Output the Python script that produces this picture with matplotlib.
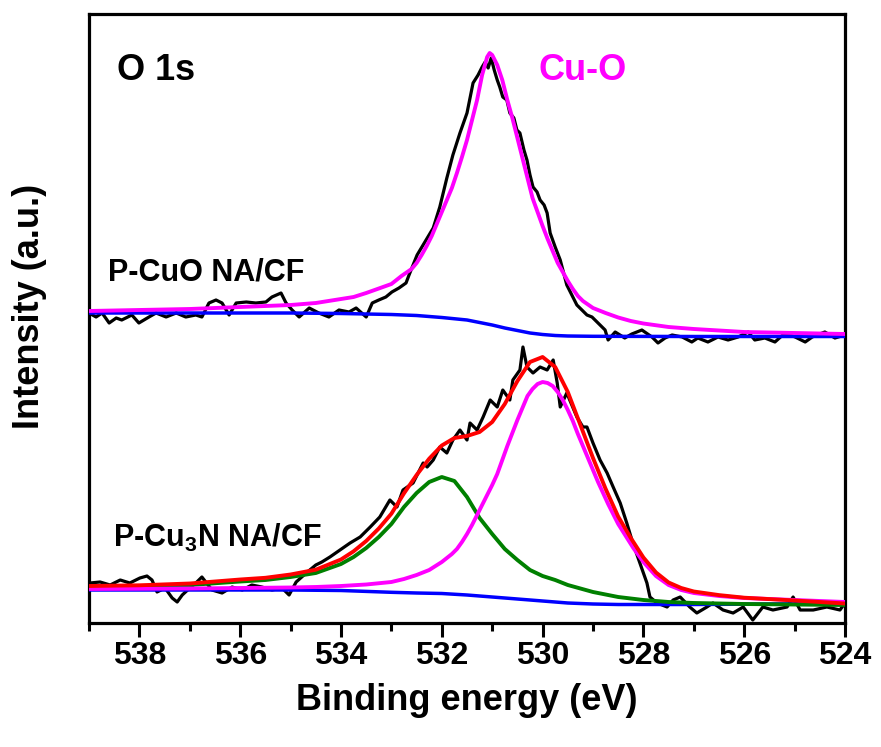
import matplotlib
matplotlib.use('Agg')
from matplotlib import pyplot as plt
from matplotlib.ticker import MultipleLocator

# ---------------- data (binding energy in eV, intensity in a.u.) ----------------
# P-CuO NA/CF : measured spectrum
cuo_exp_ev = [539.00, 538.86, 538.74, 538.60, 538.46, 538.35, 538.15, 538.01, 537.81, 537.67,
              537.47, 537.27, 537.08, 536.88, 536.76, 536.62, 536.48, 536.36, 536.22, 536.08,
              535.88, 535.69, 535.49, 535.37, 535.19, 535.09, 534.97, 534.83, 534.63, 534.44,
              534.24, 534.04, 533.84, 533.70, 533.50, 533.38, 533.25, 533.11, 532.99, 532.85,
              532.71, 532.65, 532.49, 532.17, 532.04, 531.90, 531.78, 531.64, 531.50, 531.38,
              531.28, 531.20, 531.14, 531.08, 531.02, 530.96, 530.90, 530.85, 530.79, 530.71,
              530.65, 530.57, 530.51, 530.45, 530.37, 530.31, 530.25, 530.19, 530.11, 530.05,
              529.97, 529.91, 529.85, 529.75, 529.65, 529.52, 529.42, 529.32, 529.22, 529.12,
              529.02, 528.90, 528.76, 528.70, 528.56, 528.37, 528.23, 528.03, 527.83, 527.71,
              527.57, 527.43, 527.23, 527.04, 526.92, 526.72, 526.52, 526.32, 526.12, 525.92,
              525.79, 525.59, 525.39, 525.19, 524.99, 524.79, 524.65, 524.40, 524.20, 524.00]
cuo_exp_int = [310, 306, 310, 300, 305, 303, 308, 300, 306, 310,
               306, 310, 306, 308, 306, 320, 323, 320, 308, 320,
               321, 320, 321, 326, 330, 320, 313, 306, 315, 310,
               306, 313, 311, 315, 306, 320, 323, 326, 331, 335,
               340, 348, 368, 395, 416, 445, 468, 490, 510, 540,
               548, 556, 561, 555, 565, 553, 543, 536, 526, 523,
               510, 505, 493, 490, 473, 463, 448, 436, 431, 423,
               418, 410, 390, 376, 363, 338, 328, 318, 313, 308,
               306, 300, 293, 283, 291, 285, 289, 293, 286, 280,
               285, 288, 286, 281, 285, 281, 286, 283, 286, 291,
               283, 285, 281, 290, 286, 281, 286, 291, 285, 288]

# P-CuO NA/CF : Cu-O component
cuo_fit_ev = [539.0, 538.0, 537.0, 536.0, 535.0, 534.5, 534.0, 533.75, 533.5, 533.25,
              533.0, 532.9, 532.8, 532.7, 532.6, 532.5, 532.4, 532.3, 532.2, 532.1,
              532.0, 531.9, 531.8, 531.7, 531.6, 531.5, 531.4, 531.3, 531.2, 531.1,
              531.05, 531.0, 530.9, 530.8, 530.7, 530.6, 530.5, 530.4, 530.3, 530.2,
              530.1, 530.0, 529.9, 529.8, 529.7, 529.6, 529.5, 529.4, 529.3, 529.2,
              529.0, 528.75, 528.5, 528.25, 528.0, 527.5, 527.0, 526.5, 526.0, 525.0,
              524.0]
cuo_fit_int = [312, 313, 314, 316, 318, 320, 324, 326, 330, 334.5,
               339, 343, 347, 350.5, 354, 360, 368, 377, 387, 399,
               411, 423, 435, 450, 466, 483, 503, 523, 548, 566,
               570, 568, 558, 543, 523, 505, 485, 465, 445, 425,
               411, 397, 384, 372, 360, 351, 342, 334, 327, 322,
               315, 310, 305.5, 302, 299.5, 296, 294, 292.5, 291, 290,
               289]

# P-CuO NA/CF : background
cuo_bg_ev = [539.0, 535.0, 534.0, 533.0, 532.5, 532.0, 531.5, 531.0, 530.75, 530.5,
             530.25, 530.0, 529.75, 529.5, 529.0, 527.0, 524.0]
cuo_bg_int = [310, 310, 309.5, 308.5, 307.5, 305.5, 303, 298, 295, 292.5,
              290, 288.5, 287.5, 287, 286.7, 286.5, 286.5]

# P-Cu3N NA/CF : measured spectrum
cun_exp_ev = [538.98, 538.78, 538.58, 538.38, 538.19, 537.99, 537.85, 537.75, 537.65, 537.49,
              537.35, 537.25, 537.15, 537.00, 536.86, 536.76, 536.56, 536.36, 536.16, 535.96,
              535.77, 535.57, 535.37, 535.17, 535.03, 534.89, 534.69, 534.50, 534.38, 534.22,
              534.02, 533.82, 533.62, 533.42, 533.23, 533.03, 532.89, 532.77, 532.57, 532.37,
              532.29, 532.17, 532.04, 531.90, 531.78, 531.64, 531.50, 531.44, 531.30, 531.18,
              531.04, 530.90, 530.79, 530.65, 530.59, 530.45, 530.39, 530.31, 530.19, 530.05,
              529.91, 529.79, 529.71, 529.65, 529.52, 529.32, 529.20, 529.12, 529.00, 528.86,
              528.72, 528.60, 528.46, 528.33, 528.21, 528.07, 527.93, 527.87, 527.73, 527.53,
              527.41, 527.27, 527.08, 526.94, 526.74, 526.62, 526.42, 526.22, 526.02, 525.83,
              525.63, 525.43, 525.15, 525.03, 524.89, 524.63, 524.36, 524.10, 524.00]
cun_exp_int = [40, 41, 38, 43, 40, 45, 47, 43, 31, 35,
               25, 21, 28, 35, 41, 46, 33, 30, 36, 33,
               38, 36, 33, 35, 28, 41, 50, 58, 61, 66,
               73, 80, 86, 96, 106, 123, 116, 133, 140, 160,
               156, 163, 176, 170, 183, 193, 183, 200, 193, 206,
               223, 216, 233, 223, 243, 253, 276, 256, 250, 256,
               253, 263, 240, 216, 230, 206, 196, 196, 180, 163,
               150, 136, 120, 100, 80, 60, 40, 26, 20, 16,
               23, 26, 16, 10, 16, 20, 13, 10, 16, 3,
               16, 13, 16, 26, 13, 13, 16, 13, 20]

# P-Cu3N NA/CF : Cu-O component
cun_cuo_ev = [539.0, 537.0, 536.0, 535.0, 534.5, 534.0, 533.5, 533.0, 532.75, 532.5,
              532.25, 532.0, 531.9, 531.8, 531.7, 531.6, 531.5, 531.4, 531.3, 531.2,
              531.1, 531.0, 530.9, 530.8, 530.7, 530.6, 530.5, 530.4, 530.3, 530.2,
              530.1, 530.0, 529.9, 529.8, 529.7, 529.6, 529.5, 529.4, 529.3, 529.2,
              529.1, 529.0, 528.9, 528.8, 528.7, 528.6, 528.5, 528.4, 528.3, 528.2,
              528.1, 528.0, 527.75, 527.5, 527.25, 527.0, 526.5, 526.0, 525.0, 524.0]
cun_cuo_int = [34, 34.5, 35, 35.5, 36, 37, 38.5, 41, 44, 48,
               53, 61, 65, 69, 74, 81, 89, 98, 108, 118,
               128, 138, 149, 163, 177, 190, 203, 215, 227, 234,
               239, 241, 240, 237, 231, 223, 213, 202, 189, 177,
               165, 153, 141, 130, 119, 109, 99, 91, 83, 75,
               68, 61, 47, 38, 33, 30, 27, 25, 23, 21]

# P-Cu3N NA/CF : second component (green) and envelope (red)
cun_grid_ev = [539.0, 538.0, 537.0, 536.0, 535.5, 535.0, 534.5, 534.0, 533.75, 533.5,
               533.25, 533.0, 532.75, 532.5, 532.25, 532.0, 531.75, 531.5, 531.25, 531.0,
               530.75, 530.5, 530.25, 530.0, 529.75, 529.5, 529.25, 529.0, 528.75, 528.5,
               528.25, 528.0, 527.75, 527.5, 527.25, 527.0, 526.5, 526.0, 525.0, 524.0]
cun_oh_int = [36, 36.5, 38, 41.5, 43, 46, 50, 59, 66, 75,
              86, 99, 116, 130, 141, 146, 142, 126, 105, 89,
              74, 63, 53, 47, 43, 38, 34.5, 31, 28.5, 26,
              24.5, 23, 22, 21, 20.5, 20, 19.5, 19, 18.5, 18]
cun_env_int = [37, 37.7, 39.5, 43.5, 45.2, 48.5, 53.3, 63.5, 71.7, 82,
               94.5, 109.3, 129.7, 148, 164.3, 177.5, 185, 187, 191, 201,
               219, 242, 261, 266, 256, 231, 198, 165, 134.2, 106.4,
               85, 65.5, 50.5, 40.5, 35, 31.5, 27.9, 25.3, 22.5, 19.5]

# P-Cu3N NA/CF : background
cun_bg_ev = [539.0, 535.0, 534.0, 533.0, 532.5, 532.0, 531.5, 531.0, 530.5, 530.0,
             529.5, 529.0, 528.5, 527.0, 524.0]
cun_bg_int = [33, 33, 32.5, 30.7, 30, 29.5, 28, 26, 24, 22,
              20, 19, 18.5, 18.5, 19.5]

# ---------------- style ----------------
plt.rcParams['font.family'] = ['Liberation Sans', 'DejaVu Sans']
plt.rcParams['font.weight'] = 'bold'
plt.rcParams['mathtext.fontset'] = 'custom'
plt.rcParams['mathtext.rm'] = 'Liberation Sans:bold'
plt.rcParams['mathtext.it'] = 'Liberation Sans:bold'
plt.rcParams['mathtext.bf'] = 'Liberation Sans:bold'

fig = plt.figure(figsize=(8.81, 7.47), dpi=100)
ax = fig.add_axes([89 / 881, 1 - 623 / 747, 756 / 881, 609 / 747])

# upper spectrum
ax.plot(cuo_exp_ev, cuo_exp_int, color='black', lw=2.3, zorder=2)
ax.plot(cuo_bg_ev, cuo_bg_int, color='#0000FF', lw=2.5, zorder=3)
ax.plot(cuo_fit_ev, cuo_fit_int, color='#FF00FF', lw=2.8, zorder=4)

# lower spectrum
ax.plot(cun_exp_ev, cun_exp_int, color='black', lw=2.3, zorder=2)
ax.plot(cun_bg_ev, cun_bg_int, color='#0000FF', lw=2.5, zorder=3)
ax.plot(cun_grid_ev, cun_oh_int, color='#008000', lw=2.8, zorder=4)
ax.plot(cun_cuo_ev, cun_cuo_int, color='#FF00FF', lw=2.8, zorder=5)
ax.plot(cun_grid_ev, cun_env_int, color='#FF0000', lw=2.8, zorder=6)

# labels inside
ax.text(0.037, 0.892, 'O 1s', transform=ax.transAxes, fontsize=26, fontweight='bold')
ax.text(0.594, 0.892, 'Cu-O', transform=ax.transAxes, fontsize=26, fontweight='bold',
        color='#FF00FF')
ax.text(0.025, 0.563, 'P-CuO NA/CF', transform=ax.transAxes, fontsize=22, fontweight='bold')
ax.text(0.032, 0.125, 'P-Cu$_3$N NA/CF', transform=ax.transAxes, fontsize=22,
        fontweight='bold')

# axes
ax.set_xlim(539, 524)
ax.set_ylim(0, 609)
ax.xaxis.set_major_locator(MultipleLocator(2))
ax.xaxis.set_minor_locator(MultipleLocator(1))
ax.set_yticks([])
ax.tick_params(axis='x', which='major', direction='out', length=10, width=2.2,
               labelsize=23, pad=3)
ax.tick_params(axis='x', which='minor', direction='out', length=6, width=2.2)
for lab in ax.get_xticklabels():
    lab.set_fontweight('bold')
for sp in ax.spines.values():
    sp.set_linewidth(2.3)

ax.set_xlabel('Binding energy (eV)', fontsize=26, fontweight='bold')
ax.xaxis.set_label_coords(0.5, -0.098)
ax.set_ylabel('Intensity (a.u.)', fontsize=26, fontweight='bold')
ax.yaxis.set_label_coords(-0.056, 0.52)

fig.savefig('out.png', dpi=100)
